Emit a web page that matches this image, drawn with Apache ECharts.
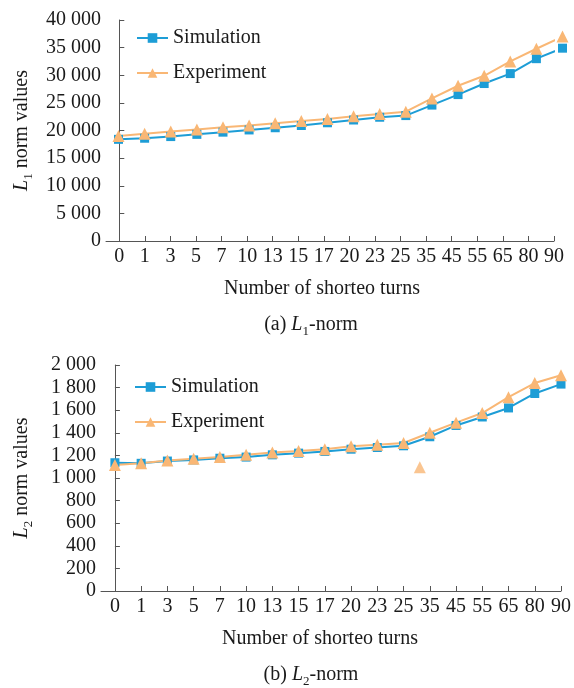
<!DOCTYPE html>
<html>
<head>
<meta charset="utf-8">
<script src="https://cdn.jsdelivr.net/npm/echarts@6/dist/echarts.min.js"></script>
<style>
html,body{margin:0;padding:0;background:#fff;}
#chart{width:574px;height:688px;}
</style>
</head>
<body>
<div id="chart"></div>
<script>
// Tick labels of the category-like x axis (number of shorted turns)
const categories = ['0','1','3','5','7','10','13','15','17','20','23','25','35','45','55','65','80','90'];

// (a) L1-norm
const l1Simulation = [18400, 18600, 18900, 19300, 19700, 20100, 20500, 20900, 21400, 21900, 22400, 22700, 24600, 26500, 28500, 30300, 33000, 34900];
const l1Experiment = [19000, 19400, 19800, 20200, 20600, 20900, 21300, 21700, 22100, 22600, 23000, 23400, 25800, 28100, 29900, 32500, 34800, 37000];

// (b) L2-norm
const l2Simulation = [1135, 1130, 1150, 1160, 1175, 1185, 1205, 1220, 1235, 1255, 1270, 1285, 1365, 1465, 1540, 1620, 1748, 1831];
const l2Experiment = [1115, 1130, 1155, 1170, 1185, 1205, 1225, 1240, 1255, 1280, 1295, 1310, 1400, 1490, 1575, 1715, 1840, 1910];
// stray experiment marker between "25" and "35"
const l2ExperimentStray = [[11.62, 1096]];

const FONT = "'Liberation Serif','Times New Roman',serif";
const TXT = '#1a1a1a';
const AX = '#555';
const BLUE = '#1d9dd6';
const ORANGE = '#f9b775';

const idx = categories.map((c, i) => i);
const pairs = arr => arr.map((v, i) => [idx[i], v]);
const fmtNum = v => {
  const s = String(Math.round(v));
  return s.length > 3 ? s.slice(0, s.length - 3) + ' ' + s.slice(s.length - 3) : s;
};

const rich = {
  i: {fontFamily: FONT, fontSize: 20, fontStyle: 'italic', color: TXT, lineHeight: 26},
  n: {fontFamily: FONT, fontSize: 20, color: TXT, lineHeight: 26},
  s: {fontFamily: FONT, fontSize: 13, color: TXT, verticalAlign: 'bottom', lineHeight: 13}
};

function visibleX(grid, min) {
  return {
    type: 'value', gridIndex: grid, min: min, max: 17,
    axisLine: {show: true, onZero: false, lineStyle: {color: AX, width: 1}},
    axisTick: {show: true, inside: true, length: 5, customValues: idx, lineStyle: {color: AX}},
    axisLabel: {customValues: idx, formatter: v => categories[Math.round(v)], fontFamily: FONT, fontSize: 20, color: TXT, margin: 6},
    splitLine: {show: false},
    name: 'Number of shorteo turns', nameLocation: 'middle', nameGap: 38,
    nameTextStyle: {fontFamily: FONT, fontSize: 20, color: TXT, padding: [0, grid === 0 ? 16 : 22, 0, 0]}
  };
}
function yAx(grid, max, interval, sub, gap) {
  return {
    type: 'value', gridIndex: grid, min: 0, max: max, interval: interval,
    axisLine: {show: true, lineStyle: {color: AX, width: 1}},
    axisTick: {show: true, inside: true, length: 5, lineStyle: {color: AX}},
    axisLabel: {formatter: fmtNum, fontFamily: FONT, fontSize: 20, color: TXT, margin: 5},
    splitLine: {show: false},
    name: '{i|L}{s|' + sub + '}{n| norm values}', nameLocation: 'middle', nameGap: gap,
    nameTextStyle: {rich: rich, fontFamily: FONT, fontSize: 20, color: TXT}
  };
}

function lineSeries(name, data, xi, yi, color, symbol, size) {
  return {
    name: name, type: 'line', xAxisIndex: xi, yAxisIndex: yi, data: data,
    symbol: symbol, symbolSize: size, clip: false, animation: false,
    lineStyle: {color: color, width: 2}, itemStyle: {color: color}
  };
}

const legendBase = {
  orient: 'vertical', padding: 0, itemGap: 15, itemWidth: 31, itemHeight: 12,
  textStyle: {fontFamily: FONT, fontSize: 20, color: TXT, lineHeight: 20},
  data: ['Simulation', 'Experiment']
};

const option = {
  animation: false,
  backgroundColor: '#fff',
  grid: [
    {left: 106, top: 20, width: 448, height: 221},
    {left: 101, top: 365, width: 461, height: 226}
  ],
  xAxis: [
    visibleX(0, -0.52),
    // data positioning axis for panel (a): the published points drift slightly right of the ticks
    {type: 'value', gridIndex: 0, min: -0.479, max: 16.674, show: false},
    visibleX(1, -0.53)
  ],
  yAxis: [
    yAx(0, 40000, 5000, '1', 70),
    yAx(1, 2000, 200, '2', 66)
  ],
  legend: [
    Object.assign({left: 136, top: 28}, legendBase),
    Object.assign({left: 134, top: 377}, legendBase)
  ],
  series: [
    lineSeries('Simulation', pairs(l1Simulation), 1, 0, BLUE, 'rect', 9),
    lineSeries('Experiment', pairs(l1Experiment), 1, 0, ORANGE, 'triangle', 12),
    lineSeries('Simulation', pairs(l2Simulation), 2, 1, BLUE, 'rect', 9),
    lineSeries('Experiment', pairs(l2Experiment), 2, 1, ORANGE, 'triangle', 12),
    {name: 'Experiment', type: 'scatter', xAxisIndex: 2, yAxisIndex: 1, data: l2ExperimentStray,
     symbol: 'triangle', symbolSize: 12, itemStyle: {color: ORANGE}, animation: false}
  ],
  graphic: [
    {type: 'text', x: 311, y: 325, style: {text: '{n|(a) }{i|L}{s|1}{n|-norm}', rich: rich, align: 'center', verticalAlign: 'middle', fontFamily: FONT, fontSize: 20, fill: TXT}},
    {type: 'text', x: 311, y: 675, style: {text: '{n|(b) }{i|L}{s|2}{n|-norm}', rich: rich, align: 'center', verticalAlign: 'middle', fontFamily: FONT, fontSize: 20, fill: TXT}}
  ]
};

const chart = echarts.init(document.getElementById('chart'), null, {renderer: 'canvas'});
chart.setOption(option);
</script>
</body>
</html>
